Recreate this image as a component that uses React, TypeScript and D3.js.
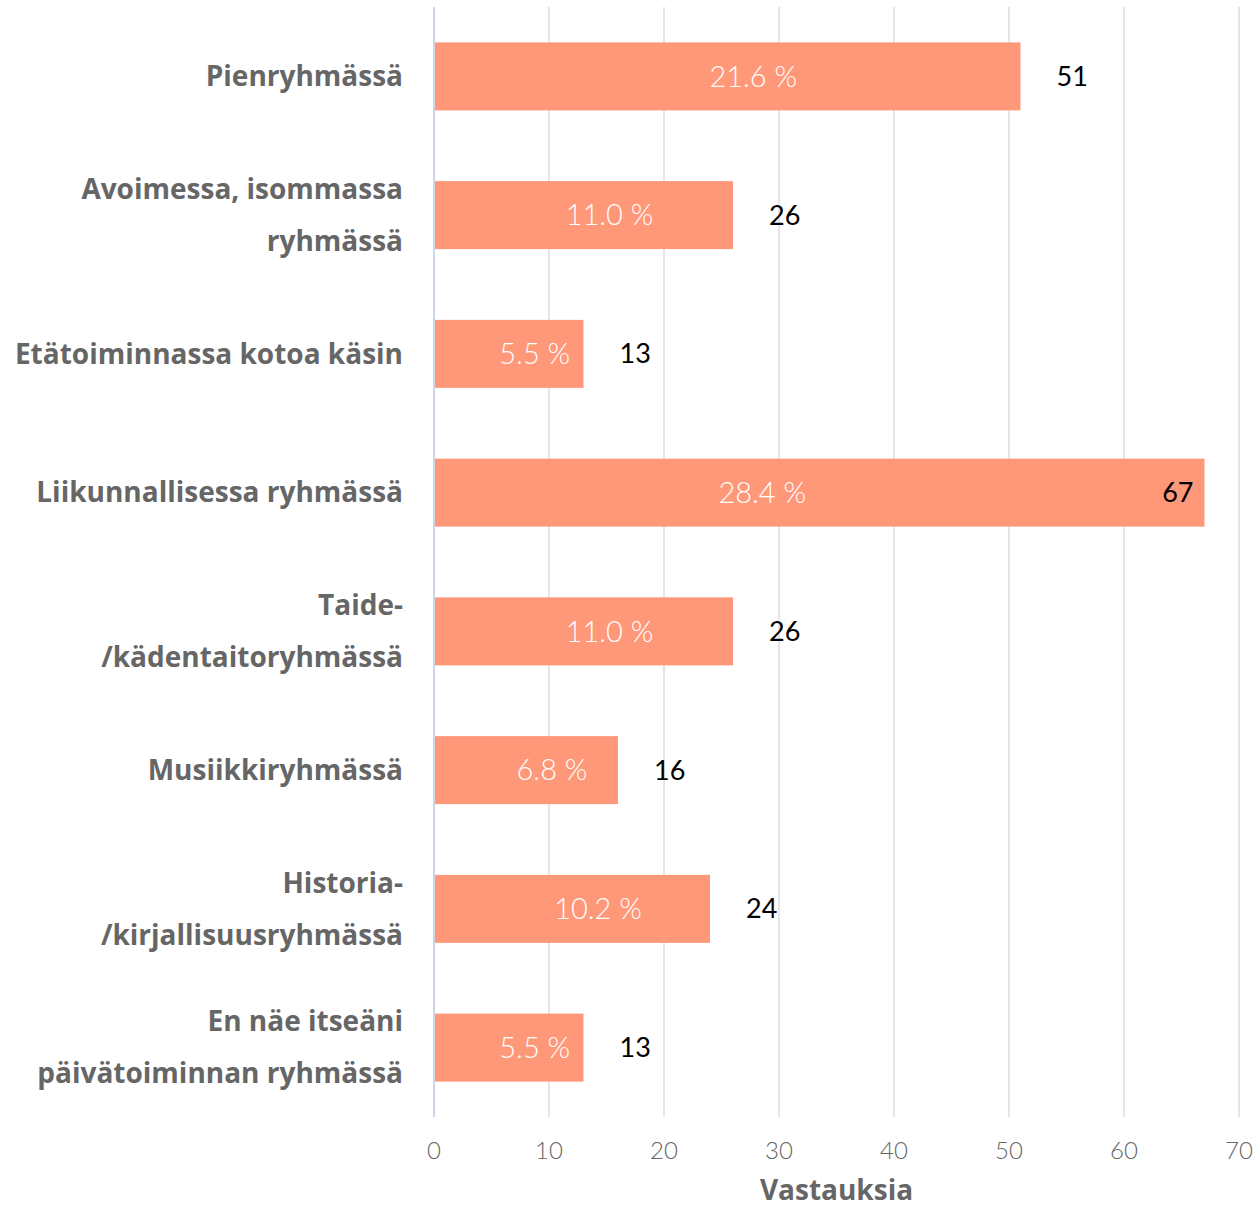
import React from "react";
import * as d3 from "d3";

const categories: string[][] = [
  ["Pienryhmässä"],
  ["Avoimessa, isommassa", "ryhmässä"],
  ["Etätoiminnassa kotoa käsin"],
  ["Liikunnallisessa ryhmässä"],
  ["Taide-", "/kädentaitoryhmässä"],
  ["Musiikkiryhmässä"],
  ["Historia-", "/kirjallisuusryhmässä"],
  ["En näe itseäni", "päivätoiminnan ryhmässä"],
];
const counts: number[] = [51, 26, 13, 67, 26, 16, 24, 13];
const percents: string[] = ["21.6 %", "11.0 %", "5.5 %", "28.4 %", "11.0 %", "6.8 %", "10.2 %", "5.5 %"];
const xTicks: number[] = [0, 10, 20, 30, 40, 50, 60, 70];
const axisTitle = "Vastauksia";

const W = 1255;
const H = 1207;
const left = 434;
const right = 1239;
const top = 7;
const bottom = 1117;

export default function App() {
  const x = d3.scaleLinear().domain([0, 70]).range([left, right]);
  const idx = categories.map((_, i) => String(i));
  const y = d3.scaleBand().domain(idx).range([top, bottom]).paddingInner(0.51).paddingOuter(0.255);
  const bw = y.bandwidth();
  const font = "'Open Sans', 'Noto Sans', sans-serif";
  const numFont = "Lato, 'Open Sans', sans-serif";
  return (
    <svg width={W} height={H} style={{ position: "absolute", left: 0, top: 0 }}>
      <rect width={W} height={H} fill="#fff" />
      {xTicks.slice(1).map((t) => (
        <line key={t} x1={x(t)} x2={x(t)} y1={top} y2={bottom} stroke="#e6e6e6" strokeWidth={2} />
      ))}
      {counts.map((v, i) => {
        const yy = y(String(i))!;
        const cy = yy + bw / 2;
        const xe = x(v);
        const inside = xe + 60 > right;
        const pctX = (x(0) + xe) / 2 + (inside ? -57 : 26);
        return (
          <g key={i}>
            <rect x={x(0)} y={yy} width={xe - x(0)} height={bw} fill="#ff9779" />
            <text x={pctX} y={cy} dy="0.35em" textAnchor="middle" fill="#fff" fontSize={29} fontFamily={numFont} fontWeight={300}>
              {percents[i]}
            </text>
            <text x={inside ? xe - 11 : xe + 36} y={cy} dy="0.35em" textAnchor={inside ? "end" : "start"} fill="#000" fontSize={27} fontFamily={numFont}>
              {v}
            </text>
            {categories[i].map((line, j) => (
              <text key={j} x={403} y={cy + (j - (categories[i].length - 1) / 2) * 52} dy="0.35em" textAnchor="end" fill="#666" fontSize={28} fontWeight={700} fontFamily={font}>
                {line}
              </text>
            ))}
          </g>
        );
      })}
      <line x1={left} x2={left} y1={top} y2={bottom} stroke="#ccd6eb" strokeWidth={2} />
      {xTicks.map((t) => (
        <text key={t} x={x(t)} y={1151} dy="0.35em" textAnchor="middle" fill="#666" fontSize={24} fontFamily={numFont} fontWeight={300}>
          {t}
        </text>
      ))}
      <text x={(left + right) / 2} y={1190} dy="0.35em" textAnchor="middle" fill="#666" fontSize={28} fontWeight={700} fontFamily={font}>
        {axisTitle}
      </text>
    </svg>
  );
}
